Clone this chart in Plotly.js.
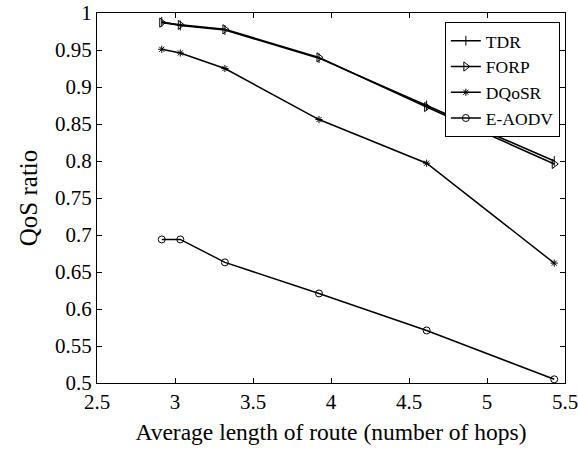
<!DOCTYPE html>
<html><head><meta charset="utf-8">
<script src="https://cdn.plot.ly/plotly-3.0.1.min.js"></script>
<style>body{margin:0;background:#fff}#c{width:578px;height:450px}</style>
</head><body><div id="c"></div>
<script>
const hops = [2.915, 3.034, 3.32, 3.923, 4.613, 5.431];
const tdr = [0.988, 0.983, 0.977, 0.939, 0.875, 0.800];
const forp = [0.987, 0.984, 0.978, 0.940, 0.873, 0.796];
const dqosr = [0.951, 0.946, 0.925, 0.856, 0.797, 0.662];
const eaodv = [0.694, 0.694, 0.663, 0.621, 0.571, 0.505];
const names = ['TDR', 'FORP', 'DQoSR', 'E-AODV'];
const xTicks = [2.5, 3, 3.5, 4, 4.5, 5, 5.5];
const yTicks = [0.5, 0.55, 0.6, 0.65, 0.7, 0.75, 0.8, 0.85, 0.9, 0.95, 1];

const font = {family: '"Liberation Serif"', color: '#000'};
function f(size) { return {family: font.family, color: font.color, size: size}; }
function tr(y, name, sym, size, w) {
  return {x: hops, y: y, name: name, type: 'scatter', mode: 'lines+markers',
    line: {color: '#000', width: w},
    marker: {symbol: sym, size: size, color: '#000', line: {color: '#000', width: 1}}};
}
const data = [
  tr(tdr, names[0], 'line-ns-open', 7, 1.6),
  tr(forp, names[1], 'triangle-right-open', 8, 1.6),
  tr(dqosr, names[2], 'asterisk-open', 6, 1.5),
  tr(eaodv, names[3], 'circle-open', 7, 1.5)
];
const axisCommon = {showgrid: false, zeroline: false, showline: true, linecolor: '#000', linewidth: 1,
  mirror: 'ticks', ticks: 'inside', ticklen: 5, tickcolor: '#000', tickfont: f(21),
  ticklabeloverflow: 'allow'};
const layout = {
  width: 578, height: 450,
  margin: {l: 97, r: 13, t: 13, b: 67},
  paper_bgcolor: '#fff', plot_bgcolor: '#fff',
  font: f(18),
  showlegend: true,
  legend: {x: 0.989, y: 0.976, xanchor: 'right', yanchor: 'top', bordercolor: '#000', borderwidth: 1,
    bgcolor: '#fff', font: f(17.5), tracegroupgap: 0, itemwidth: 30},
  xaxis: Object.assign({}, axisCommon, {range: [2.5, 5.5], tickvals: xTicks, ticktext: xTicks.map(String),
    title: {text: 'Average length of route (number of hops)', font: f(23.5), standoff: 10}}),
  yaxis: Object.assign({}, axisCommon, {range: [0.5, 1], tickvals: yTicks, ticktext: yTicks.map(String),
    title: {text: 'QoS ratio', font: f(25), standoff: 10}})
};
Plotly.newPlot('c', data, layout, {displayModeBar: false, staticPlot: true});
</script></body></html>
